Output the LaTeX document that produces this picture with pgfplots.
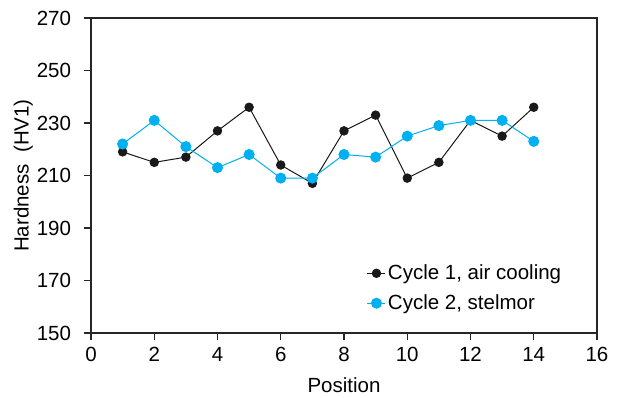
\documentclass[border=0pt]{standalone}
\usepackage{pgfplots}
\pgfplotsset{compat=1.18}
\usepackage{fontspec}
\setmainfont{Liberation Sans}
\definecolor{cblue}{HTML}{00B0F0}
\begin{document}
\fontsize{20.5}{24}\selectfont
\begin{tikzpicture}
\begin{axis}[scale only axis, width=506pt, height=315pt,
  xmin=0, xmax=16, ymin=150, ymax=270,
  xtick={0,2,...,16}, ytick={150,170,...,270},
  tick align=outside, tick pos=left, major tick length=7pt,
  axis line style={line width=1.3pt, black!85},
  every tick/.style={line width=1.2pt, black!85},
  /pgf/number format/assume math mode=true,
  yticklabel style={xshift=-6pt},
  xlabel={Position}, ylabel={Hardness\ \ (HV1)},
  xlabel shift=2pt, ylabel shift=-10pt,
  legend style={at={(rel axis cs:0.545,0.225)}, anchor=north west, draw=none, fill=none, inner sep=0pt, row sep=8pt},
  legend cell align=left,
  legend image code/.code={\draw[#1] (0pt,0pt) -- (18pt,0pt); \draw[#1, mark repeat=1] plot coordinates {(9pt,0pt)};},
]
\addplot[black!90, line width=1pt, mark=*, mark size=4.2pt] coordinates {
(1,219) (2,215) (3,217) (4,227) (5,236) (6,214) (7,207) (8,227) (9,233) (10,209) (11,215) (12,231) (13,225) (14,236)};
\addlegendentry{Cycle 1, air cooling}
\addplot[cblue, line width=1pt, mark=*, mark size=5pt] coordinates {
(1,222) (2,231) (3,221) (4,213) (5,218) (6,209) (7,209) (8,218) (9,217) (10,225) (11,229) (12,231) (13,231) (14,223)};
\addlegendentry{Cycle 2, stelmor}
\coordinate (sw) at (rel axis cs:0,0);
\coordinate (ne) at (rel axis cs:1,1);
\end{axis}
\pgfresetboundingbox
\path[use as bounding box] ([xshift=-91pt,yshift=-65pt]sw) rectangle ([xshift=22pt,yshift=18pt]ne);
\end{tikzpicture}
\end{document}
